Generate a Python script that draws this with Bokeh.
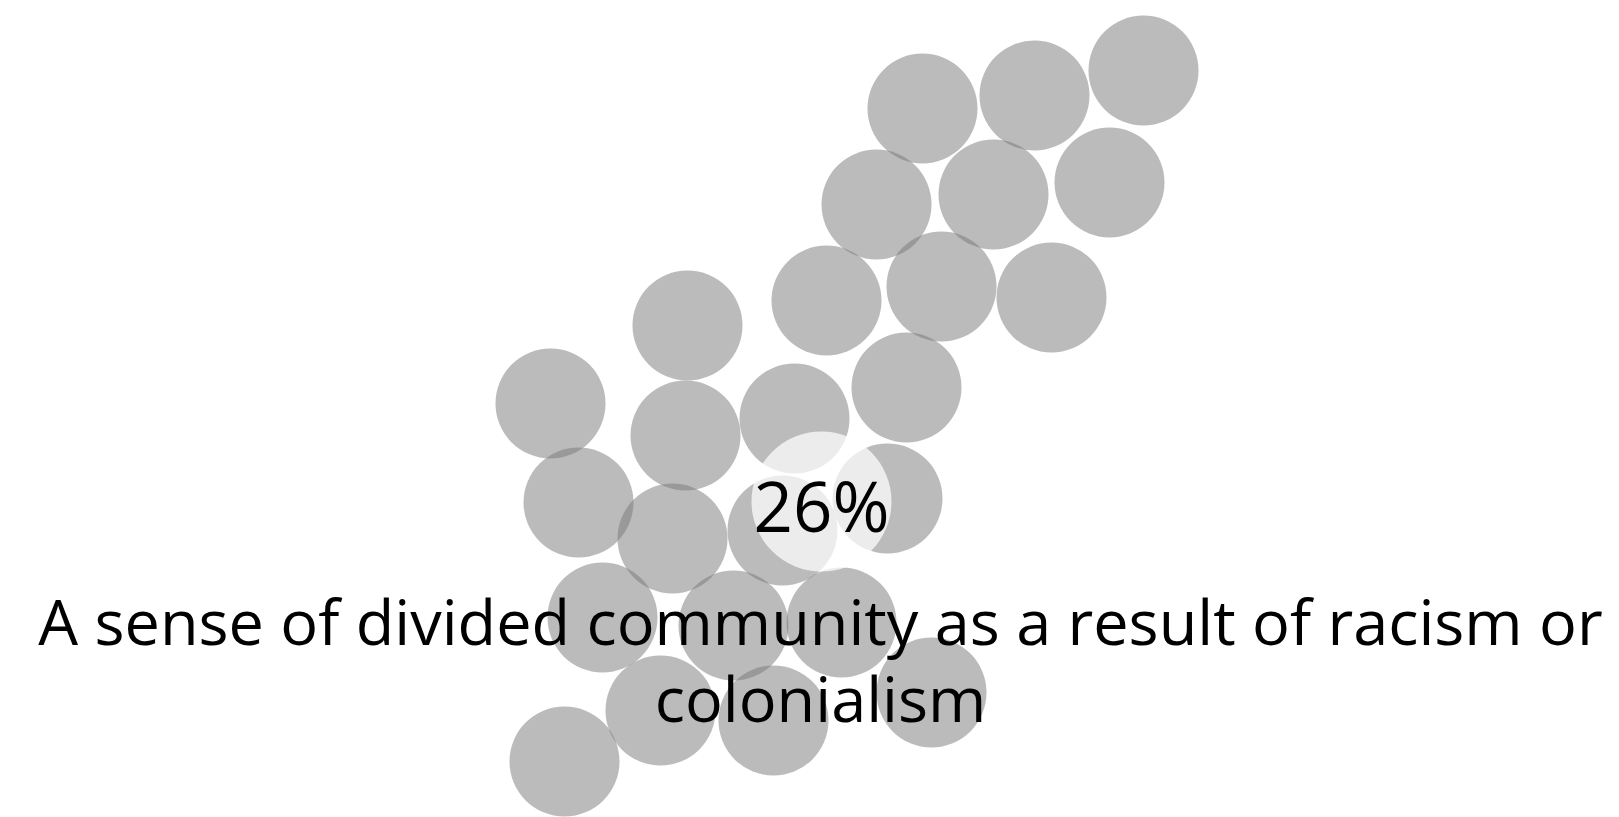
from bokeh.plotting import figure
from bokeh.models import Range1d, ColumnDataSource
from bokeh.core.properties import value
from bokeh.embed import file_html
from bokeh.resources import INLINE

# Bubble positions (layout units)
cx = [922, 1034, 1143, 876, 993, 1109, 826, 941, 1051, 906,
      687, 550, 685, 794, 578, 672, 782, 887,
      602, 733, 841, 931, 660, 773, 564]
cy = [108, 95, 70, 204, 194, 182, 300, 286, 297, 387,
      325, 403, 435, 418, 502, 538, 530, 498,
      617, 625, 622, 692, 710, 720, 761]
bubble_radius = 55

# Highlighted bubble
hx = [821]
hy = [501]
h_radius = 70
pct_label = ["26%"]

# Category label (wrapped)
label_lines = ["A sense of divided community as a result of racism or", "colonialism"]
label_x = [820, 820]
label_y = [620, 697]

W, H = 1619, 817
p = figure(width=W, height=H, output_backend="svg", toolbar_location=None,
           x_range=Range1d(0, W), y_range=Range1d(H, 0),
           min_border=0)
p.axis.visible = False
p.grid.visible = False
p.outline_line_color = None
p.background_fill_color = "white"
p.border_fill_color = "white"

src = ColumnDataSource(dict(x=cx, y=cy))
p.circle(x="x", y="y", radius=bubble_radius, source=src,
         fill_color="#777777", fill_alpha=0.5, line_color=None)

p.circle(x=hx, y=hy, radius=h_radius, fill_color="#ffffff", fill_alpha=0.72,
         line_color=None)

p.text(x=hx, y=[504], text=pct_label, text_align="center", text_baseline="alphabetic",
       text_font=value("Open Sans"), text_font_size=value("69px"), text_color="#000000")

p.text(x=label_x, y=label_y, text=label_lines, text_align="center",
       text_baseline="alphabetic", text_font=value("Open Sans"),
       text_font_size=value("63px"), text_color="#000000")

open("out.html", "w").write(file_html(p, INLINE))
